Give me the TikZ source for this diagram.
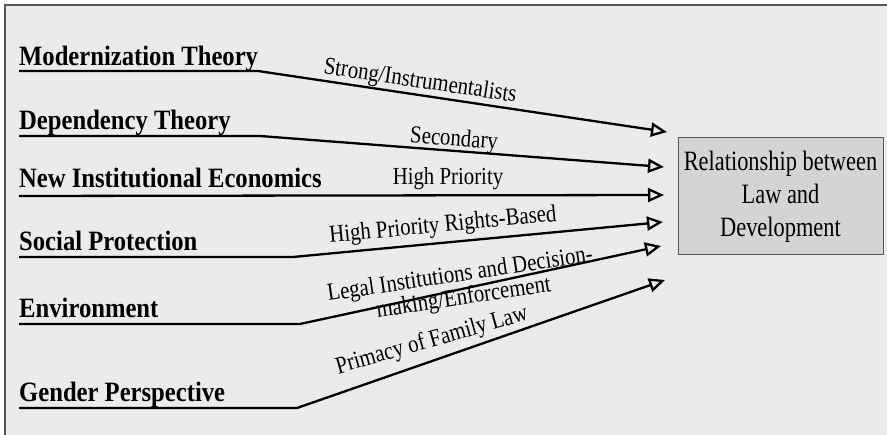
\documentclass[tikz,border=0pt]{standalone}
\usepackage{fontspec}
\setmainfont{Liberation Serif}
\newfontfamily\hdfont{Liberation Serif}[FakeStretch=0.88]
\newfontfamily\lbfont{Liberation Serif}[FakeStretch=0.85]
\newfontfamily\bxfont{Liberation Serif}[FakeStretch=0.80]
\usetikzlibrary{arrows.meta}
\definecolor{bgc}{HTML}{EBEBEB}
\definecolor{framec}{HTML}{555555}
\definecolor{boxfill}{HTML}{D4D4D4}
\definecolor{boxc}{HTML}{555555}
\begin{document}
\begin{tikzpicture}[x=1pt,y=-1pt,
  hd/.style={anchor=base west, inner sep=0pt, font=\hdfont\bfseries\fontsize{28}{30}\selectfont},
  lb/.style={inner sep=0pt, align=center, font=\lbfont\fontsize{24.5}{21}\selectfont},
  conn/.style={line width=2.3pt, line join=round, -{Triangle[open,length=16pt,width=14pt,line width=2.3pt]}},
  relbox/.style={draw=boxc, fill=boxfill, line width=1pt, minimum width=205pt, minimum height=117pt, align=center, inner sep=0pt, font=\bxfont\fontsize{28}{33}\selectfont}
  ]
\useasboundingbox (0,0) rectangle (887,435);
\fill[white] (0,0) rectangle (887,435);
\fill[bgc] (5,5) rectangle (887,435);
\draw[framec, line width=1.5pt] (5,435) -- (5,5) -- (887,5);

\node[relbox] (rel) at (780.5,196.5) {Relationship between\\Law and\\Development};

\node[hd] (mod) at (19,66) {Modernization Theory};
\node[hd] (dep) at (19,129.5) {Dependency Theory};
\node[hd] (nie) at (19,188) {New Institutional Economics};
\node[hd] (soc) at (19,251) {Social Protection};
\node[hd] (env) at (19,318) {Environment};
\node[hd] (gen) at (19,402) {Gender Perspective};

\coordinate (mod1) at (258,71);   \coordinate (t1) at (667,132);
\coordinate (dep1) at (260,136);  \coordinate (t2) at (664,167);
\coordinate (nie1) at (19,196);   \coordinate (t3) at (664,195);
\coordinate (soc1) at (293,257);  \coordinate (t4) at (663,222);
\coordinate (env1) at (300,324);  \coordinate (t5) at (661,246);
\coordinate (gen1) at (297,408);  \coordinate (t6) at (665,280);

\draw[conn] (mod.west |- mod1) -- (mod1) -- (t1);
\draw[conn] (dep.west |- dep1) -- (dep1) -- (t2);
\draw[conn] (nie1) -- (t3);
\draw[conn] (soc.west |- soc1) -- (soc1) -- (t4);
\draw[conn] (env.west |- env1) -- (env1) -- (t5);
\draw[conn] (gen.west |- gen1) -- (gen1) -- (t6);

\node[lb, rotate=-8.5] (l1) at (420,82) {Strong/Instrumentalists};
\node[lb, rotate=-4.4] (l2) at (454,140) {Secondary};
\node[lb] (l3) at (448,179) {High Priority};
\node[lb, rotate=5.4] (l4) at (443,226) {High Priority Rights-Based};
\node[lb, rotate=8.5] (l5) at (462,287) {Legal Institutions and Decision-\\making/Enforcement};
\node[lb, rotate=16] (l6) at (432,341) {Primacy of Family Law};
\end{tikzpicture}
\end{document}
